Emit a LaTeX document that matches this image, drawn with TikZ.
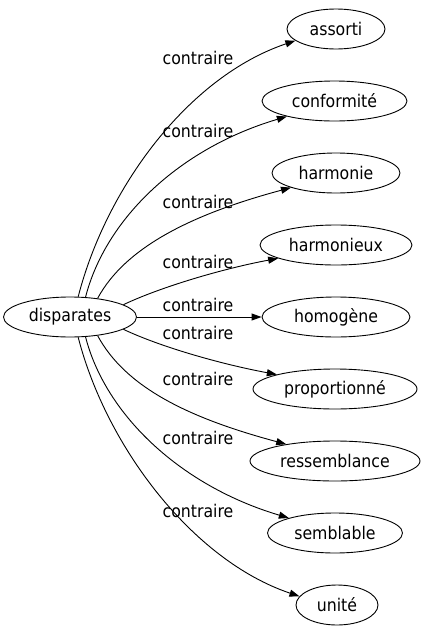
\documentclass[tikz,border=0pt]{standalone}
\usepackage{fontspec}
\setmainfont{DejaVu Sans Condensed}
\usetikzlibrary{shapes.geometric,arrows.meta}
\begin{document}
\begin{tikzpicture}[x=1pt,y=-1pt,
  font=\fontsize{17.5}{21}\selectfont,
  word/.style={draw, ellipse, inner sep=0pt, minimum height=40pt, line width=0.9pt},
  rel/.style={inner sep=0pt},
  link/.style={line width=0.9pt, -{Triangle[length=10pt,width=7pt]}}]
\useasboundingbox (0,0) rectangle (426,635);
% nodes
\node[word, minimum width=133pt] (d) at (70,317) {disparates};
\node[word, minimum width=98pt]  (t1) at (336,29)  {assorti};
\node[word, minimum width=145pt] (t2) at (334.5,101) {conformité};
\node[word, minimum width=128pt] (t3) at (336,173) {harmonie};
\node[word, minimum width=152pt] (t4) at (336,245) {harmonieux};
\node[word, minimum width=148pt] (t5) at (336,317) {homogène};
\node[word, minimum width=164pt] (t6) at (335,389) {proportionné};
\node[word, minimum width=170pt] (t7) at (335,461) {ressemblance};
\node[word, minimum width=135pt] (t8) at (335,533) {semblable};
\node[word, minimum width=82pt]  (t9) at (337,605) {unité};
% labels
\node[rel] (l1) at (198,58)  {contraire};
\node[rel] (l2) at (198,131) {contraire};
\node[rel] (l3) at (198,202) {contraire};
\node[rel] (l4) at (198,262) {contraire};
\node[rel] (l5) at (198,305) {contraire};
\node[rel] (l6) at (198,333) {contraire};
\node[rel] (l7) at (198,379) {contraire};
\node[rel] (l8) at (198,438) {contraire};
\node[rel] (l9) at (198,511) {contraire};
% edges
\draw[link] (d.68.7) .. controls +(28,-109) and +(-107,36) .. (t1.196.5);
\draw[link] (d.52.4) .. controls +(20,-78) and +(-108,32) .. (t2.198.3);
\draw[link] (d.34.1) .. controls +(28,-52) and +(-97,26) .. (t3.198.1);
\draw[link] (d.13.5) .. controls +(38,-18) and +(-54,10) .. (t4.193.6);
\draw[link] (d.0) -- (t5.180);
\draw[link] (d.-13.5) .. controls +(38,18) and +(-54,-10) .. (t6.166.4);
\draw[link] (d.-34.1) .. controls +(28,52) and +(-97,-26) .. (t7.161.9);
\draw[link] (d.-52.4) .. controls +(20,78) and +(-108,-32) .. (t8.162.3);
\draw[link] (d.-68.7) .. controls +(28,109) and +(-107,-36) .. (t9.167.3);
\end{tikzpicture}
\end{document}
